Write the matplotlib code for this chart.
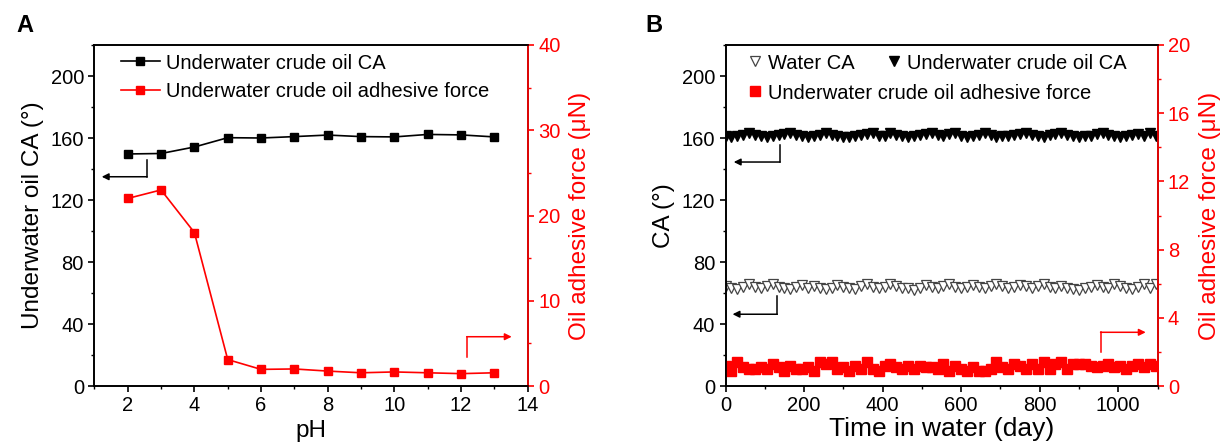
import matplotlib
matplotlib.use('Agg')
import matplotlib.pyplot as plt
from matplotlib.ticker import MultipleLocator

plt.rcParams['font.family'] = ['Liberation Sans', 'DejaVu Sans']

# ---------------- Panel A data ----------------
ph = [2, 3, 4, 5, 6, 7, 8, 9, 10, 11, 12, 13]
ph_oil_ca = [149.7, 150.0, 154.2, 160.2, 160.0, 160.9, 161.9, 160.9, 160.7, 162.3, 162.0, 160.7]
ph_force = [22.0, 23.0, 18.0, 3.1, 1.95, 2.0, 1.75, 1.55, 1.65, 1.55, 1.45, 1.55]

# ---------------- Panel B data ----------------
days = [0, 15, 30, 45, 60, 75, 90, 105, 120, 135,
        150, 165, 180, 195, 210, 225, 240, 255, 270, 285,
        300, 315, 330, 345, 360, 375, 390, 405, 420, 435,
        450, 465, 480, 495, 510, 525, 540, 555, 570, 585,
        600, 615, 630, 645, 660, 675, 690, 705, 720, 735,
        750, 765, 780, 795, 810, 825, 840, 855, 870, 885,
        900, 915, 930, 945, 960, 975, 990, 1005, 1020, 1035,
        1050, 1065, 1080, 1095]
uw_oil_ca = [161.5, 160.5, 161.0, 162.0, 163.5, 162.0, 161.0, 160.5, 161.5, 162.0,
             162.5, 163.5, 162.0, 161.0, 160.5, 161.0, 162.0, 163.5, 162.0, 161.0,
             160.5, 160.5, 161.5, 162.0, 162.5, 163.5, 161.5, 161.0, 163.5, 162.0,
             161.0, 160.5, 161.0, 162.0, 162.5, 163.5, 162.0, 161.0, 162.5, 163.5,
             161.5, 160.5, 161.0, 162.0, 163.5, 162.0, 160.5, 161.0, 161.5, 162.0,
             162.5, 163.5, 162.0, 161.0, 160.5, 162.0, 162.5, 163.5, 162.0, 161.0,
             160.5, 161.0, 161.5, 162.5, 163.5, 162.0, 161.0, 160.5, 161.5, 162.0,
             162.5, 161.5, 163.5, 161.0]
water_ca = [64.5, 63.0, 62.5, 64.0, 65.5, 64.0, 63.0, 64.5, 65.5, 64.0,
            63.0, 62.5, 64.0, 65.0, 63.5, 64.5, 63.0, 62.5, 63.5, 65.0,
            64.0, 63.0, 62.5, 64.5, 65.5, 64.0, 63.0, 64.0, 65.5, 64.5,
            63.5, 63.0, 62.0, 63.5, 65.0, 64.0, 63.0, 64.5, 65.5, 64.0,
            63.0, 64.0, 65.0, 64.0, 63.5, 64.5, 65.5, 64.5, 63.5, 64.0,
            65.0, 64.5, 63.5, 64.5, 65.5, 64.0, 63.5, 64.5, 63.0, 62.5,
            62.0, 63.0, 64.0, 65.0, 64.0, 63.5, 65.5, 64.5, 63.0, 62.5,
            64.0, 65.5, 63.5, 65.5]
uw_force = [1.2, 0.9, 1.4, 1.1, 1.0, 1.0, 1.1, 1.0, 1.3, 1.1,
            0.9, 1.2, 1.0, 1.0, 1.1, 0.9, 1.4, 1.3, 1.4, 1.0,
            1.1, 0.9, 1.2, 1.0, 1.4, 1.0, 0.9, 1.2, 1.3, 1.1,
            1.0, 1.2, 1.0, 1.2, 1.1, 1.1, 1.0, 1.3, 0.9, 1.2,
            1.0, 0.9, 1.1, 0.9, 0.9, 1.0, 1.4, 1.1, 1.0, 1.3,
            1.2, 1.0, 1.3, 1.0, 1.4, 1.0, 1.3, 1.4, 1.0, 1.3,
            1.3, 1.3, 1.2, 1.1, 1.2, 1.3, 1.1, 1.2, 1.0, 1.2,
            1.3, 1.1, 1.3, 1.2]

RED = '#ff0000'
TICK_FS = 14.5
LABEL_FS = 17.5

W, H = 1231, 447
fig = plt.figure(figsize=(W / 100, H / 100), dpi=100)


def px_axes(x0, x1, y_top, y_bot):
    return fig.add_axes([x0 / W, (H - y_bot) / H, (x1 - x0) / W, (y_bot - y_top) / H])


def style(ax, ax2):
    for a in (ax, ax2):
        for s in a.spines.values():
            s.set_linewidth(1.2)
    ax2.spines['right'].set_color(RED)
    ax.tick_params(axis='both', which='major', direction='out', length=4, width=1.2,
                   labelsize=TICK_FS, top=False, right=False)
    ax.tick_params(axis='both', which='minor', direction='out', length=2.5, width=1.0,
                   top=False, right=False)
    ax2.tick_params(axis='y', which='major', direction='out', length=4, width=1.2,
                    labelsize=TICK_FS, colors=RED)
    ax2.tick_params(axis='y', which='minor', direction='out', length=2.5, width=1.0, colors=RED)


def bent_arrow(ax, x_start, y_start, y_turn, x_tip, color):
    ax.plot([x_start, x_start], [y_start, y_turn], color=color, lw=1.1, clip_on=False)
    ax.annotate('', xy=(x_tip, y_turn), xytext=(x_start, y_turn),
                arrowprops=dict(arrowstyle='-|>', color=color, lw=1.1,
                                mutation_scale=10, shrinkA=0, shrinkB=0))


# ================= Panel A =================
axA = px_axes(94.4, 527.7, 45, 386)
axA2 = axA.twinx()
lA1, = axA.plot(ph, ph_oil_ca, color='black', lw=1.2, marker='s', ms=6.2,
                label='Underwater crude oil CA')
lA2, = axA2.plot(ph, ph_force, color=RED, lw=1.2, marker='s', ms=6.2,
                 label='Underwater crude oil adhesive force')
axA.set_xlim(1, 14)
axA.set_ylim(0, 220)
axA2.set_ylim(0, 40)
axA.xaxis.set_major_locator(MultipleLocator(2))
axA.xaxis.set_minor_locator(MultipleLocator(1))
axA.yaxis.set_major_locator(MultipleLocator(40))
axA.yaxis.set_minor_locator(MultipleLocator(20))
axA2.yaxis.set_major_locator(MultipleLocator(10))
axA2.yaxis.set_minor_locator(MultipleLocator(5))
style(axA, axA2)
axA.set_xlabel('pH', fontsize=LABEL_FS, labelpad=3)
axA.set_ylabel('Underwater oil CA (°)', fontsize=LABEL_FS, labelpad=5)
axA2.set_ylabel('Oil adhesive force (μN)', fontsize=LABEL_FS, color=RED,
                rotation=90, labelpad=6)
axA.legend([lA1, lA2], [lA1.get_label(), lA2.get_label()], loc='upper left',
           bbox_to_anchor=(0.062, 0.975), frameon=False, fontsize=TICK_FS,
           handlelength=1.9, handletextpad=0.3, labelspacing=0.45,
           borderpad=0, borderaxespad=0)
bent_arrow(axA, 2.58, 145.8, 135.0, 1.22, 'black')
bent_arrow(axA2, 12.17, 3.44, 5.78, 13.52, RED)
fig.text(25 / W, 1 - 25 / H, 'A', fontsize=17, fontweight='bold', ha='center', va='center')

# ================= Panel B =================
axB = px_axes(725.5, 1157.5, 45, 386)
axB2 = axB.twinx()
hW, = axB.plot(days, water_ca, ls='none', marker='v', ms=7.5, mfc='white', mec='#444444',
               mew=0.9, label='Water CA')
hU, = axB.plot(days, uw_oil_ca, ls='none', marker='v', ms=7.5, color='black',
               label='Underwater crude oil CA')
hF, = axB2.plot(days, uw_force, ls='none', marker='s', ms=6.6, color=RED, mec=RED,
                label='Underwater crude oil adhesive force')
axB.set_xlim(0, 1100)
axB.set_ylim(0, 220)
axB2.set_ylim(0, 20)
axB.xaxis.set_major_locator(MultipleLocator(200))
axB.xaxis.set_minor_locator(MultipleLocator(100))
axB.yaxis.set_major_locator(MultipleLocator(40))
axB.yaxis.set_minor_locator(MultipleLocator(20))
axB2.yaxis.set_major_locator(MultipleLocator(4))
axB2.yaxis.set_minor_locator(MultipleLocator(2))
style(axB, axB2)
axB.set_xlabel('Time in water (day)', fontsize=19, labelpad=1)
axB.set_ylabel('CA (°)', fontsize=LABEL_FS, labelpad=5)
axB2.set_ylabel('Oil adhesive force (μN)', fontsize=LABEL_FS, color=RED,
                rotation=90, labelpad=6)
legB1 = axB.legend([hW, hU], [hW.get_label(), hU.get_label()], ncol=2, loc='upper left',
                   bbox_to_anchor=(0.052, 0.975), frameon=False, fontsize=TICK_FS,
                   handlelength=0.7, handletextpad=0.3, columnspacing=1.6,
                   borderpad=0, borderaxespad=0)
axB.add_artist(legB1)
axB.legend([hF], [hF.get_label()], loc='upper left',
           bbox_to_anchor=(0.052, 0.975 - 30 / 341), frameon=False, fontsize=TICK_FS,
           handlelength=0.7, handletextpad=0.3, borderpad=0, borderaxespad=0)
bent_arrow(axB, 139, 155.5, 144.5, 21, 'black')
bent_arrow(axB, 132, 58.2, 46.3, 18, 'black')
bent_arrow(axB2, 955, 2.0, 3.15, 1070, RED)
fig.text(654 / W, 1 - 25 / H, 'B', fontsize=17, fontweight='bold', ha='center', va='center')

fig.savefig('out.png', dpi=100)
